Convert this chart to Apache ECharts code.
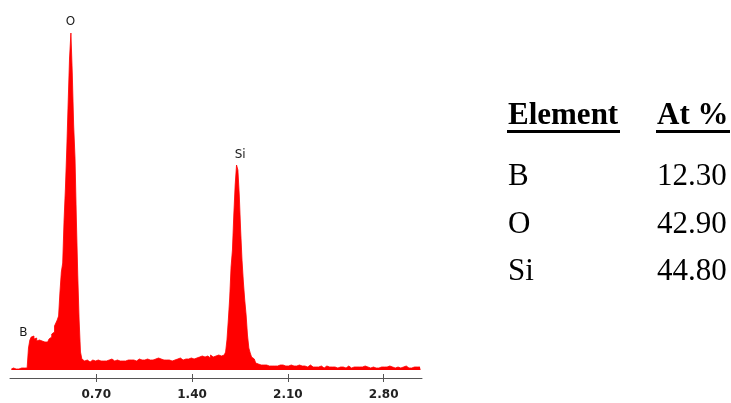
<!DOCTYPE html>
<html>
<head>
<meta charset="utf-8">
<script src="https://cdn.jsdelivr.net/npm/echarts@6/dist/echarts.min.js"></script>
<style>
  html, body { margin: 0; padding: 0; background: #ffffff; }
  #chart { width: 731px; height: 403px; }
</style>
</head>
<body>
<div id="chart"></div>
<script>
// EDS spectrum: counts per 10 eV channel, first channel at 0.08 keV
const energyStart = 0.08;
const energyStep = 0.01;
const counts = [
  1, 2,
  0, 1, 2, 1, 0, 2, 1, 2, 1, 2,
  3, 22, 30, 33, 34, 31, 32, 29, 30, 28,
  29, 27, 28, 26, 28, 29, 31, 33, 36, 38,
  44, 47, 50, 54, 78, 98, 107, 150, 182, 222,
  268, 312, 337, 297, 245, 212, 150, 95, 50, 18,
  11, 9, 8, 10, 9, 8, 9, 10, 8, 9,
  9, 10, 8, 9, 11, 9, 10, 9, 8, 10,
  9, 11, 10, 9, 8, 10, 12, 9, 10, 9,
  10, 9, 11, 10, 9, 10, 8, 10, 11, 9,
  10, 11, 9, 10, 12, 10, 9, 11, 10, 10,
  11, 10, 9, 11, 10, 12, 10, 11, 9, 10,
  11, 10, 12, 10, 11, 9, 11, 10, 12, 11,
  10, 12, 11, 10, 12, 11, 13, 11, 10, 12,
  12, 11, 13, 12, 11, 13, 12, 14, 12, 13,
  12, 14, 13, 12, 15, 13, 12, 14, 13, 15,
  13, 14, 13, 15, 14, 18, 30, 50, 72, 103,
  120, 155, 185, 205, 200, 175, 140, 110, 88, 70,
  55, 35, 22, 17, 13, 11, 9, 7, 6, 5,
  5, 4, 5, 4, 5, 4, 4, 5, 4, 5,
  4, 5, 4, 4, 5, 4, 5, 4, 4, 5,
  4, 4, 5, 4, 4, 5, 4, 4, 5, 4,
  4, 5, 4, 4, 3, 4, 5, 4, 3, 4,
  3, 4, 3, 3, 4, 3, 2, 3, 4, 3,
  3, 2, 3, 4, 3, 3, 2, 3, 3, 4,
  3, 3, 2, 3, 4, 3, 2, 3, 3, 2,
  3, 4, 3, 2, 3, 3, 4, 2, 3, 3,
  2, 3, 3, 4, 2, 3, 2, 3, 3, 2,
  3, 2, 3, 3, 4, 2, 3, 3, 2, 3,
  3, 3, 2, 3, 3, 2, 4, 3, 2, 3,
  2, 3, 3, 2, 3, 2, 3, 3
];

// axis tick labels (keV)
const energyTicks = [0.70, 1.40, 2.10, 2.80];

// identified lines and the channel each label sits on
const peakNames = ['B', 'O', 'Si'];
const peakEnergies = [0.24, 0.52, 1.73];

// quantification table
const tableHeaders = ['Element', 'At %'];
const elements = ['B', 'O', 'Si'];
const atPercent = [12.30, 42.90, 44.80];

// label placement relative to each peak's top
const peakLabelOffset = { B: [-10, -3], O: [-1, -11], Si: [3, -10] };

const spectrum = counts.map((c, i) => [+(energyStart + i * energyStep).toFixed(2), c]);
const countAt = e => counts[Math.round((e - energyStart) / energyStep)];

const RED = '#ff0000';
const serif = '"Liberation Serif", "Times New Roman", serif';
const sans = '"DejaVu Sans", Verdana, sans-serif';

const graphic = [];
const col1 = 508, col2 = 657;
const headerY = 116, rowY0 = 177, rowGap = 47.5;
tableHeaders.forEach((h, k) => {
  graphic.push({
    type: 'text', x: k === 0 ? col1 : col2, y: headerY,
    style: { text: h, font: 'bold 31px ' + serif, fill: '#000', verticalAlign: 'middle', align: 'left' }
  });
});
graphic.push({ type: 'rect', shape: { x: 507, y: 130, width: 113, height: 3 }, style: { fill: '#000' } });
graphic.push({ type: 'rect', shape: { x: 656, y: 130, width: 74, height: 3 }, style: { fill: '#000' } });
elements.forEach((el, i) => {
  graphic.push({
    type: 'text', x: col1, y: rowY0 + i * rowGap,
    style: { text: el, font: '31px ' + serif, fill: '#000', verticalAlign: 'middle', align: 'left' }
  });
  graphic.push({
    type: 'text', x: col2, y: rowY0 + i * rowGap,
    style: { text: atPercent[i].toFixed(2), font: '31px ' + serif, fill: '#000', verticalAlign: 'middle', align: 'left' }
  });
});

const chart = echarts.init(document.getElementById('chart'), null, { renderer: 'canvas' });
chart.setOption({
  animation: false,
  backgroundColor: '#ffffff',
  grid: { left: 10, right: 309, top: 33, bottom: 25 },
  xAxis: [
    {
      type: 'value', min: 0.07, max: 3.08,
      splitLine: { show: false },
      axisLine: { show: true, onZero: false, lineStyle: { color: '#555', width: 1 } },
      axisTick: { show: true, inside: false, length: 4, customValues: energyTicks, lineStyle: { color: '#555' } },
      axisLabel: {
        show: true, customValues: energyTicks, margin: 11,
        formatter: v => v.toFixed(2),
        fontFamily: sans, fontWeight: 'bold', fontSize: 12, color: '#222'
      }
    },
    {
      type: 'value', min: 0.07, max: 3.08, position: 'bottom',
      splitLine: { show: false },
      axisLine: { show: false, onZero: false },
      axisTick: { show: true, inside: true, length: 4, customValues: energyTicks, lineStyle: { color: '#555' } },
      axisLabel: { show: false }
    }
  ],
  yAxis: {
    type: 'value', min: -8, max: 337, show: false, splitLine: { show: false }
  },
  series: [
    {
      type: 'line',
      data: spectrum,
      step: 'middle',
      symbol: 'none',
      lineStyle: { color: RED, width: 0.8 },
      areaStyle: { color: RED, opacity: 1 },
      markPoint: {
        symbol: 'circle', symbolSize: 0,
        label: {
          show: true,
          fontFamily: sans, fontSize: 12, color: '#1a1a1a'
        },
        data: peakNames.map((n, i) => ({
          name: n,
          coord: [peakEnergies[i], countAt(peakEnergies[i])],
          label: { formatter: n, offset: peakLabelOffset[n] }
        }))
      }
    }
  ],
  graphic: graphic
});
</script>
</body>
</html>
